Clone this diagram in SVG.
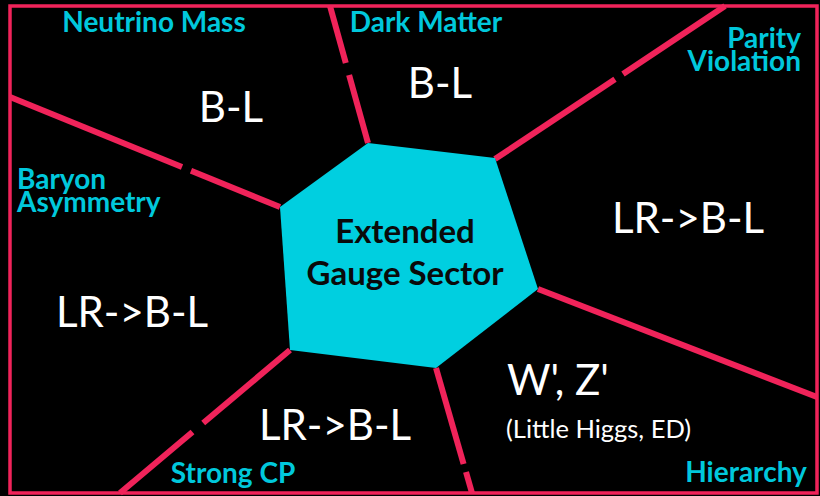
<svg xmlns="http://www.w3.org/2000/svg" width="820" height="496" viewBox="0 0 820 496">
<style>
.ln{stroke:#F0235A;stroke-width:6;stroke-linecap:butt;fill:none}
.lbl{font-family:Lato,"Open Sans",sans-serif;font-weight:700;font-size:28px;fill:#00C8DC}
.big{font-family:Lato,"Open Sans",sans-serif;font-weight:400;font-size:42px;fill:#FFFFFF}
.sm{font-family:Lato,"Open Sans",sans-serif;font-weight:400;font-size:25.5px;fill:#FFFFFF}
.ctr{font-family:Lato,"Open Sans",sans-serif;font-weight:700;font-size:33px;fill:#0A0A0A;text-anchor:middle}
</style>
<rect x="0" y="0" width="820" height="496" fill="#000000"/>
<g id="frame">
<rect x="10" y="6" width="807" height="487" fill="none" stroke="#F0235A" stroke-width="3.5"/>
</g>
<g id="connectors">
<line class="ln" x1="330" y1="6" x2="345.8" y2="63"/>
<line class="ln" x1="349.1" y1="75" x2="368" y2="143"/>
<line class="ln" x1="10" y1="97" x2="182" y2="167"/>
<line class="ln" x1="191" y1="170.7" x2="280" y2="207"/>
<line class="ln" x1="725" y1="6" x2="623" y2="74"/>
<line class="ln" x1="615" y1="79.2" x2="495" y2="159"/>
<line class="ln" x1="538" y1="289" x2="817" y2="397"/>
<line class="ln" x1="436" y1="368" x2="463.6" y2="464"/>
<line class="ln" x1="466" y1="472" x2="472" y2="493"/>
<line class="ln" x1="290" y1="350" x2="203.2" y2="423"/>
<line class="ln" x1="192.5" y1="432" x2="120" y2="493"/>
</g>
<g id="hub">
<polygon points="368,143 495,158 538,289 436,368 290,350 280,207" fill="#00CFE0"/>
<text class="ctr" x="405" y="243">Extended</text>
<text class="ctr" x="405" y="285">Gauge Sector</text>
</g>
<g id="neutrino">
<text class="lbl" x="154" y="32" text-anchor="middle">Neutrino Mass</text>
<text class="big" x="231" y="122" text-anchor="middle">B-L</text>
</g>
<g id="darkmatter">
<text class="lbl" x="426" y="32" text-anchor="middle">Dark Matter</text>
<text class="big" x="440" y="98" text-anchor="middle">B-L</text>
</g>
<g id="parity">
<text class="lbl" x="801" y="48" text-anchor="end">Parity</text>
<text class="lbl" x="801" y="71" text-anchor="end">Violation</text>
<text class="big" x="688" y="233" text-anchor="middle">LR-&gt;B-L</text>
</g>
<g id="baryon">
<text class="lbl" x="17" y="189">Baryon</text>
<text class="lbl" x="17" y="212">Asymmetry</text>
<text class="big" x="132" y="327" text-anchor="middle">LR-&gt;B-L</text>
</g>
<g id="strongcp">
<text class="lbl" x="233" y="483" text-anchor="middle">Strong CP</text>
<text class="big" x="335" y="440" text-anchor="middle">LR-&gt;B-L</text>
</g>
<g id="hierarchy">
<text class="lbl" x="746" y="482" text-anchor="middle">Hierarchy</text>
<text class="big" x="507" y="395">W', Z'</text>
<text class="sm" x="506" y="438">(Little Higgs, ED)</text>
</g>
</svg>
